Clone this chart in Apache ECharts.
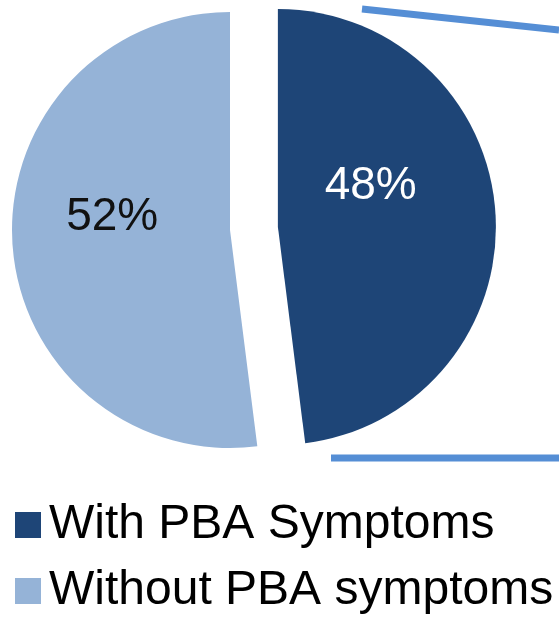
<!DOCTYPE html>
<html>
<head>
<meta charset="utf-8">
<script src="https://cdn.jsdelivr.net/npm/echarts@6/dist/echarts.min.js"></script>
<style>
html,body{margin:0;padding:0;background:#fff;}
#chart{width:559px;height:617px;}
</style>
</head>
<body>
<div id="chart"></div>
<script>
const categories = ['With PBA Symptoms', 'Without PBA symptoms'];
const values = [48, 52];
const sliceColors = ['#1E4577', '#95B3D7'];
const labelColors = ['#ffffff', '#111111'];

const chart = echarts.init(document.getElementById('chart'), null, {renderer: 'canvas'});
const data = categories.map((name, i) => ({
  name: name,
  value: values[i],
  selected: i === 0,
  itemStyle: {color: sliceColors[i]},
  label: {color: labelColors[i]}
}));

chart.setOption({
  animation: false,
  legend: {
    orient: 'vertical',
    left: 15,
    top: 499,
    bottom: 0,
    padding: 0,
    icon: 'rect',
    itemWidth: 26,
    itemHeight: 26,
    itemGap: 14,
    selectedMode: false,
    data: categories,
    textStyle: {
      fontFamily: 'Liberation Sans, Arial, sans-serif',
      fontSize: 48,
      lineHeight: 52,
      color: '#000',
      padding: [0, 0, 0, 3]
    }
  },
  graphic: [
    {type: 'line', shape: {x1: 362, y1: 9, x2: 559, y2: 30}, style: {stroke: '#558ED5', lineWidth: 7}, silent: true},
    {type: 'line', shape: {x1: 331, y1: 458, x2: 559, y2: 458}, style: {stroke: '#558ED5', lineWidth: 7}, silent: true}
  ],
  series: [{
    type: 'pie',
    center: [230, 230],
    radius: 218,
    startAngle: 90,
    clockwise: true,
    selectedMode: 'single',
    selectedOffset: 48,
    avoidLabelOverlap: false,
    label: {
      show: true,
      position: 'inside',
      formatter: '{c}%',
      fontFamily: 'Liberation Sans, Arial, sans-serif',
      fontSize: 46
    },
    labelLayout: function (p) {
      return p.dataIndex === 0 ? {dx: -19, dy: -34} : {dx: -6, dy: -20};
    },
    labelLine: {show: false},
    emphasis: {disabled: true},
    itemStyle: {borderWidth: 0},
    data: data
  }]
});
</script>
</body>
</html>
